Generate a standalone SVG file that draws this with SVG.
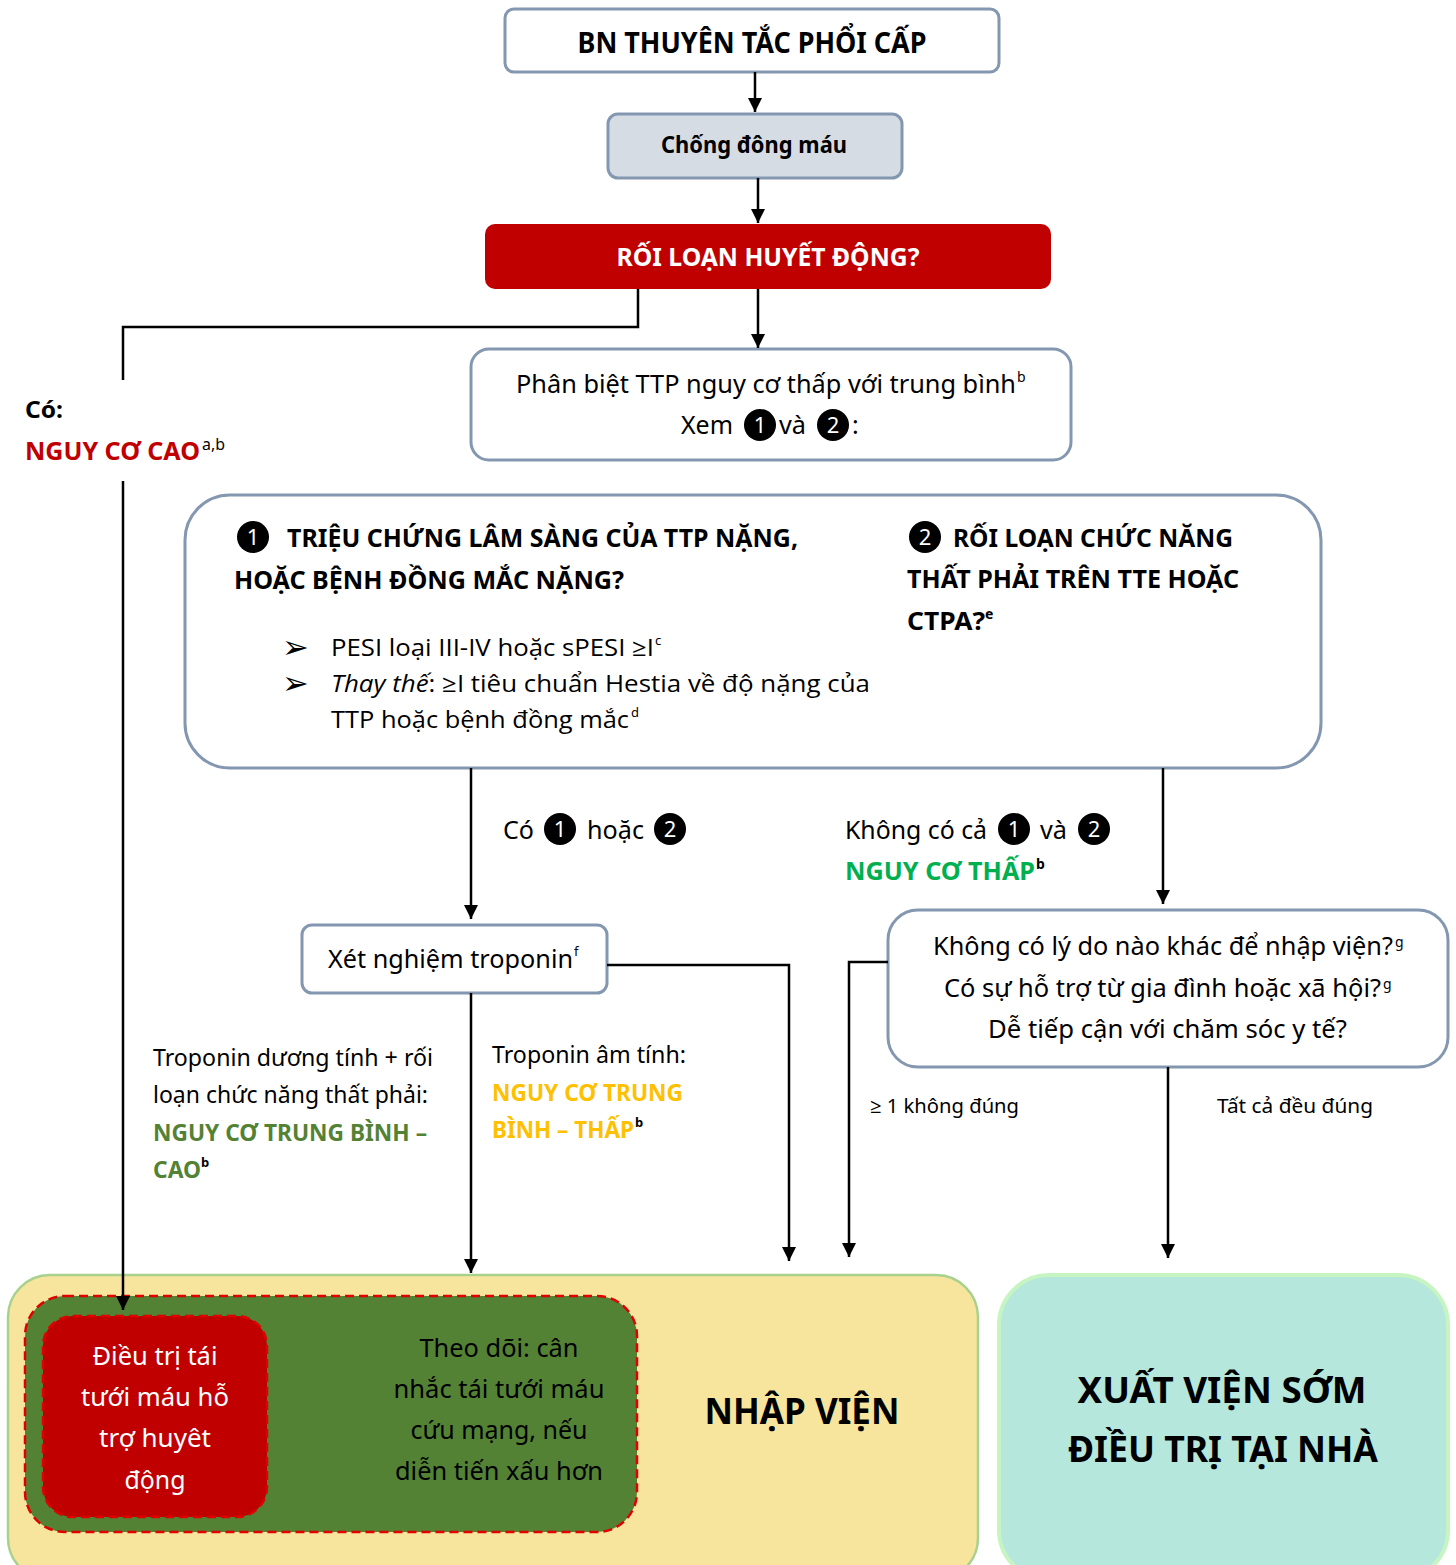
<svg xmlns="http://www.w3.org/2000/svg" width="1456" height="1565" viewBox="0 0 1456 1565">
<defs>
<marker id="arr" markerUnits="userSpaceOnUse" viewBox="0 0 14 14" refX="14" refY="7" markerWidth="14" markerHeight="14" orient="auto">
<path d="M0,0 L14,7 L0,14 z" fill="#000"/>
</marker>
<style>
text{font-family:"Noto Sans","Open Sans","DejaVu Sans",sans-serif;fill:#000}
.b{font-weight:bold}
.box{fill:#fff;stroke:#8497b0;stroke-width:3}
.con{fill:none;stroke:#000;stroke-width:2.5}
.arr{marker-end:url(#arr)}
.num{fill:#000}
.numt{fill:#fff;font-size:22px;text-anchor:middle}
.c{text-anchor:middle}
.os{font-family:"Open Sans","Noto Sans",sans-serif}
.bul{font-family:"DejaVu Sans",sans-serif;font-size:32px}
</style>
</defs>

<g id="n-start">
<rect class="box" x="505" y="9" width="494" height="63" rx="9" stroke-width="2"/>
<text class="b c" x="752" y="53" font-size="28" textLength="349" lengthAdjust="spacingAndGlyphs">BN THUYÊN TẮC PHỔI CẤP</text>
</g>

<g id="n-anticoag">
<rect x="608" y="114" width="294" height="64" rx="10" fill="#d6dce4" stroke="#8497b0" stroke-width="3"/>
<text class="b c" x="754" y="153" font-size="24" textLength="186" lengthAdjust="spacingAndGlyphs">Chống đông máu</text>
</g>

<g id="n-hemo">
<rect x="485" y="224" width="566" height="65" rx="10" fill="#c00000"/>
<text class="b c" x="768" y="266" font-size="25" style="fill:#fff" textLength="303" lengthAdjust="spacingAndGlyphs">RỐI LOẠN HUYẾT ĐỘNG?</text>
</g>

<g id="l-high">
<text class="b" x="25" y="418" font-size="23" textLength="38" lengthAdjust="spacingAndGlyphs">Có:</text>
<text class="b" x="25" y="460" font-size="25" style="fill:#c00000" textLength="175" lengthAdjust="spacingAndGlyphs">NGUY CƠ CAO</text>
<text x="202" y="450" font-size="16" textLength="23" lengthAdjust="spacingAndGlyphs">a,b</text>
</g>

<g id="n-diff">
<rect class="box" x="471" y="349" width="600" height="111" rx="18"/>
<text x="516" y="393" font-size="25" textLength="500" lengthAdjust="spacingAndGlyphs">Phân biệt TTP nguy cơ thấp với trung bình</text>
<text x="1017" y="382" font-size="14">b</text>
<text x="681" y="434" font-size="25" textLength="52" lengthAdjust="spacingAndGlyphs">Xem</text>
<circle class="num" cx="760" cy="425" r="16"/><text class="numt" x="760" y="433">1</text>
<text x="779" y="434" font-size="25" textLength="27" lengthAdjust="spacingAndGlyphs">và</text>
<circle class="num" cx="833" cy="425" r="16"/><text class="numt" x="833" y="433">2</text>
<text x="852" y="434" font-size="25">:</text>
</g>

<g id="n-criteria">
<rect class="box" x="185" y="495" width="1136" height="273" rx="45"/>
<circle class="num" cx="253" cy="537" r="16"/><text class="numt" x="253" y="545">1</text>
<text class="b" x="287" y="547" font-size="25" textLength="511" lengthAdjust="spacingAndGlyphs">TRIỆU CHỨNG LÂM SÀNG CỦA TTP NẶNG,</text>
<text class="b" x="234" y="589" font-size="25" textLength="390" lengthAdjust="spacingAndGlyphs">HOẶC BỆNH ĐỒNG MẮC NẶNG?</text>
<text class="bul" x="282" y="658">➢</text>
<text class="os" x="331" y="656" font-size="24" textLength="323" lengthAdjust="spacingAndGlyphs">PESI loại III-IV hoặc sPESI ≥I</text>
<text x="655" y="645" font-size="13">c</text>
<text class="bul" x="282" y="694">➢</text>
<text class="os" x="331" y="692" font-size="24" textLength="539" lengthAdjust="spacingAndGlyphs"><tspan font-style="italic">Thay thế</tspan>: ≥I tiêu chuẩn Hestia về độ nặng của</text>
<text class="os" x="331" y="728" font-size="24" textLength="298" lengthAdjust="spacingAndGlyphs">TTP hoặc bệnh đồng mắc</text>
<text x="631" y="717" font-size="13">d</text>
<circle class="num" cx="925" cy="537" r="16"/><text class="numt" x="925" y="545">2</text>
<text class="b" x="953" y="547" font-size="25" textLength="280" lengthAdjust="spacingAndGlyphs">RỐI LOẠN CHỨC NĂNG</text>
<text class="b" x="907" y="588" font-size="25" textLength="332" lengthAdjust="spacingAndGlyphs">THẤT PHẢI TRÊN TTE HOẶC</text>
<text class="b" x="907" y="630" font-size="25" textLength="78" lengthAdjust="spacingAndGlyphs">CTPA?</text>
<text class="b" x="985" y="619" font-size="14">e</text>
</g>

<g id="l-yes12">
<text x="503" y="839" font-size="25" textLength="31" lengthAdjust="spacingAndGlyphs">Có</text>
<circle class="num" cx="560" cy="829" r="16"/><text class="numt" x="560" y="837">1</text>
<text x="587" y="839" font-size="25" textLength="57" lengthAdjust="spacingAndGlyphs">hoặc</text>
<circle class="num" cx="670" cy="829" r="16"/><text class="numt" x="670" y="837">2</text>
</g>

<g id="l-no12">
<text x="845" y="839" font-size="25" textLength="142" lengthAdjust="spacingAndGlyphs">Không có cả</text>
<circle class="num" cx="1014" cy="829" r="16"/><text class="numt" x="1014" y="837">1</text>
<text x="1040" y="839" font-size="25" textLength="27" lengthAdjust="spacingAndGlyphs">và</text>
<circle class="num" cx="1094" cy="829" r="16"/><text class="numt" x="1094" y="837">2</text>
<text class="b" x="845" y="880" font-size="25" style="fill:#00b050" textLength="190" lengthAdjust="spacingAndGlyphs">NGUY CƠ THẤP</text>
<text class="b" x="1036" y="869" font-size="14">b</text>
</g>

<g id="n-troponin">
<rect class="box" x="302" y="925" width="305" height="68" rx="10"/>
<text x="328" y="968" font-size="25" textLength="245" lengthAdjust="spacingAndGlyphs">Xét nghiệm troponin</text>
<text x="574" y="956" font-size="13">f</text>
</g>

<g id="l-tpos">
<text x="153" y="1066" font-size="23" textLength="280" lengthAdjust="spacingAndGlyphs">Troponin dương tính + rối</text>
<text x="153" y="1103" font-size="23" textLength="275" lengthAdjust="spacingAndGlyphs">loạn chức năng thất phải:</text>
<text class="b" x="153" y="1141" font-size="23" style="fill:#548235" textLength="274" lengthAdjust="spacingAndGlyphs">NGUY CƠ TRUNG BÌNH –</text>
<text class="b" x="153" y="1178" font-size="23" style="fill:#548235" textLength="48" lengthAdjust="spacingAndGlyphs">CAO</text>
<text class="b" x="201" y="1167" font-size="13">b</text>
</g>

<g id="l-tneg">
<text x="492" y="1063" font-size="23" textLength="194" lengthAdjust="spacingAndGlyphs">Troponin âm tính:</text>
<text class="b" x="492" y="1101" font-size="23" style="fill:#ffc000" textLength="191" lengthAdjust="spacingAndGlyphs">NGUY CƠ TRUNG</text>
<text class="b" x="492" y="1138" font-size="23" style="fill:#ffc000" textLength="142" lengthAdjust="spacingAndGlyphs">BÌNH – THẤP</text>
<text class="b" x="635" y="1127" font-size="13">b</text>
</g>

<g id="n-social">
<rect class="box" x="888" y="910" width="560" height="157" rx="30"/>
<text x="933" y="955" font-size="25" textLength="460" lengthAdjust="spacingAndGlyphs">Không có lý do nào khác để nhập viện?</text>
<text x="1395" y="947" font-size="14">g</text>
<text x="944" y="997" font-size="25" textLength="437" lengthAdjust="spacingAndGlyphs">Có sự hỗ trợ từ gia đình hoặc xã hội?</text>
<text x="1383" y="989" font-size="14">g</text>
<text x="988" y="1038" font-size="25" textLength="359" lengthAdjust="spacingAndGlyphs">Dễ tiếp cận với chăm sóc y tế?</text>
</g>

<g id="l-social">
<text x="870" y="1113" font-size="20" textLength="149" lengthAdjust="spacingAndGlyphs">≥ 1 không đúng</text>
<text x="1217" y="1113" font-size="20" textLength="156" lengthAdjust="spacingAndGlyphs">Tất cả đều đúng</text>
</g>

<g id="n-admit">
<rect x="8" y="1275" width="970" height="305" rx="42" fill="#f8e59d" stroke="#a9d18e" stroke-width="2.5"/>
<text class="b c" x="802" y="1424" font-size="36" textLength="195" lengthAdjust="spacingAndGlyphs">NHẬP VIỆN</text>
</g>

<g id="n-monitor">
<rect x="25" y="1296" width="612" height="236" rx="40" fill="#548235" stroke="#e00000" stroke-width="2.5" stroke-dasharray="9,5"/>
<text class="c" x="499" y="1357" font-size="25" textLength="159" lengthAdjust="spacingAndGlyphs">Theo dõi: cân</text>
<text class="c" x="499" y="1398" font-size="25" textLength="211" lengthAdjust="spacingAndGlyphs">nhắc tái tưới máu</text>
<text class="c" x="499" y="1439" font-size="25" textLength="177" lengthAdjust="spacingAndGlyphs">cứu mạng, nếu</text>
<text class="c" x="499" y="1480" font-size="25" textLength="208" lengthAdjust="spacingAndGlyphs">diễn tiến xấu hơn</text>
</g>

<g id="n-reperf">
<rect x="43" y="1316" width="224" height="201" rx="30" fill="#c00000" stroke="#e00000" stroke-width="2.5" stroke-dasharray="9,5"/>
<text class="c" x="155" y="1365" font-size="25" style="fill:#fff" textLength="125" lengthAdjust="spacingAndGlyphs">Điều trị tái</text>
<text class="c" x="155" y="1406" font-size="25" style="fill:#fff" textLength="148" lengthAdjust="spacingAndGlyphs">tưới máu hỗ</text>
<text class="c" x="155" y="1447" font-size="25" style="fill:#fff" textLength="112" lengthAdjust="spacingAndGlyphs">trợ huyêt</text>
<text class="c" x="155" y="1489" font-size="25" style="fill:#fff" textLength="61" lengthAdjust="spacingAndGlyphs">động</text>
</g>

<g id="n-discharge">
<rect x="999" y="1275" width="449" height="305" rx="50" fill="#b5e7dc" stroke="#c6f5c2" stroke-width="4"/>
<text class="b c" x="1222" y="1403" font-size="36" textLength="289" lengthAdjust="spacingAndGlyphs">XUẤT VIỆN SỚM</text>
<text class="b c" x="1223" y="1462" font-size="36" textLength="310" lengthAdjust="spacingAndGlyphs">ĐIỀU TRỊ TẠI NHÀ</text>
</g>

<g id="connectors">
<path class="con arr" d="M755,72 V112"/>
<path class="con arr" d="M758,178 V223"/>
<path class="con arr" d="M758,289 V348"/>
<path class="con" d="M638,289 V327 H123 V380"/>
<path class="con arr" d="M123,481 V1310"/>
<path class="con arr" d="M471,768 V919"/>
<path class="con arr" d="M1163,768 V904"/>
<path class="con arr" d="M471,993 V1273"/>
<path class="con arr" d="M607,965 H789 V1261"/>
<path class="con arr" d="M888,962 H849 V1257"/>
<path class="con arr" d="M1168,1067 L1168,1258"/>
</g>
</svg>
